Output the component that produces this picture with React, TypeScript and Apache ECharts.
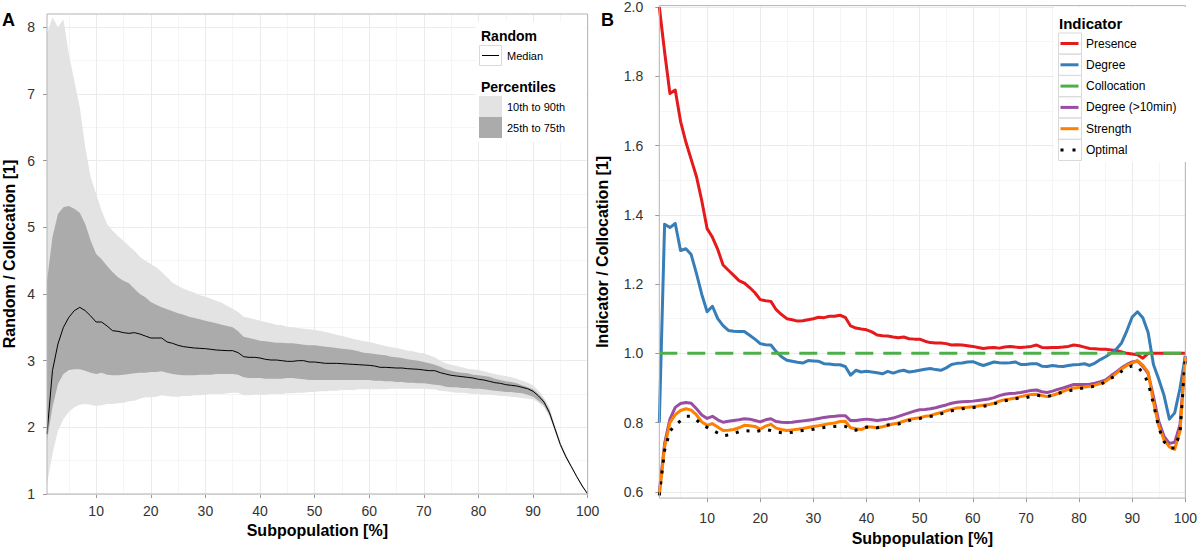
import React, { useEffect, useRef } from 'react';
import * as echarts from 'echarts';

// ---------- data ----------
const subpop = [
  1, 2, 3, 4, 5, 6, 7, 8, 9, 10, 11, 12, 13, 14, 15, 16, 17, 18, 19, 20,
  21, 22, 23, 24, 25, 26, 27, 28, 29, 30, 31, 32, 33, 34, 35, 36, 37, 38, 39, 40,
  41, 42, 43, 44, 45, 46, 47, 48, 49, 50, 51, 52, 53, 54, 55, 56, 57, 58, 59, 60,
  61, 62, 63, 64, 65, 66, 67, 68, 69, 70, 71, 72, 73, 74, 75, 76, 77, 78, 79, 80,
  81, 82, 83, 84, 85, 86, 87, 88, 89, 90, 91, 92, 93, 94, 95, 96, 97, 98, 99, 100,
];

// Panel A: random subpopulation / collocation
const randomMedian = [
  1.9, 2.85, 3.25, 3.5, 3.65, 3.75, 3.8, 3.75, 3.67, 3.58,
  3.58, 3.52, 3.45, 3.44, 3.42, 3.41, 3.42, 3.4, 3.37, 3.34,
  3.34, 3.34, 3.28, 3.26, 3.23, 3.21, 3.2, 3.19, 3.185, 3.18,
  3.17, 3.16, 3.155, 3.15, 3.15, 3.12, 3.06, 3.05, 3.05, 3.04,
  3.02, 3.01, 3.01, 3.0, 2.99, 2.99, 3.0, 3.0, 2.98, 2.98,
  2.97, 2.96, 2.96, 2.96, 2.955, 2.95, 2.945, 2.94, 2.935, 2.93,
  2.92, 2.9, 2.9, 2.895, 2.89, 2.89, 2.88, 2.875, 2.87, 2.86,
  2.85, 2.85, 2.82, 2.8, 2.78, 2.77, 2.76, 2.75, 2.74, 2.72,
  2.71, 2.69, 2.67, 2.66, 2.64, 2.63, 2.62, 2.6, 2.58, 2.54,
  2.47, 2.38, 2.22, 1.98, 1.74, 1.56, 1.41, 1.26, 1.12, 1.0,
];
const randomP25 = [
  1.8, 2.3, 2.65, 2.8, 2.86, 2.87, 2.87, 2.85, 2.82, 2.8,
  2.82, 2.79, 2.78, 2.78, 2.79, 2.8, 2.81, 2.82, 2.82, 2.83,
  2.83, 2.84, 2.82, 2.8, 2.79, 2.78, 2.78, 2.78, 2.79, 2.79,
  2.79, 2.8, 2.8, 2.8, 2.8, 2.79, 2.75, 2.74, 2.74, 2.74,
  2.73, 2.73, 2.73, 2.73, 2.74, 2.74, 2.73, 2.72, 2.71, 2.71,
  2.71, 2.71, 2.71, 2.71, 2.71, 2.71, 2.71, 2.71, 2.71, 2.71,
  2.7, 2.7, 2.69, 2.69, 2.68, 2.68, 2.67, 2.67, 2.66, 2.66,
  2.65, 2.64, 2.63, 2.61, 2.6, 2.6, 2.59, 2.59, 2.58, 2.58,
  2.57, 2.56, 2.55, 2.54, 2.53, 2.53, 2.52, 2.51, 2.49, 2.46,
  2.4, 2.33, 2.18, 1.95, 1.72, 1.54, 1.4, 1.25, 1.11, 1.0,
];
const randomP75 = [
  4.2, 4.85, 5.2, 5.3, 5.32, 5.28, 5.22, 5.05, 4.8, 4.6,
  4.52, 4.42, 4.33, 4.25, 4.2, 4.16, 4.08, 4.0, 3.95, 3.88,
  3.84, 3.8, 3.77, 3.74, 3.71, 3.69, 3.66, 3.64, 3.62, 3.6,
  3.58, 3.56, 3.54, 3.52, 3.5, 3.44, 3.36, 3.34, 3.32, 3.3,
  3.29, 3.28, 3.27, 3.27, 3.26, 3.26, 3.25, 3.24, 3.23, 3.23,
  3.22, 3.21, 3.2, 3.19, 3.18, 3.17, 3.16, 3.14, 3.12, 3.11,
  3.1, 3.09, 3.08, 3.06, 3.05, 3.04, 3.02, 3.01, 3.0, 2.98,
  2.96, 2.94, 2.91, 2.87, 2.85, 2.83, 2.82, 2.81, 2.79, 2.78,
  2.77, 2.76, 2.73, 2.71, 2.69, 2.68, 2.66, 2.63, 2.6, 2.57,
  2.5, 2.41, 2.26, 2.01, 1.76, 1.58, 1.42, 1.27, 1.13, 1.0,
];
const randomP10 = [
  1.15, 1.6, 1.95, 2.12, 2.23, 2.3, 2.34, 2.35, 2.34, 2.32,
  2.33, 2.35, 2.35, 2.36, 2.37, 2.39, 2.4, 2.43, 2.45, 2.45,
  2.46, 2.48, 2.47, 2.46, 2.46, 2.47, 2.47, 2.48, 2.48, 2.49,
  2.5, 2.5, 2.5, 2.51, 2.52, 2.52, 2.48, 2.48, 2.49, 2.49,
  2.49, 2.5, 2.5, 2.5, 2.51, 2.51, 2.52, 2.52, 2.53, 2.53,
  2.54, 2.54, 2.55, 2.55, 2.56, 2.56, 2.56, 2.57, 2.57, 2.57,
  2.57, 2.57, 2.57, 2.58, 2.58, 2.58, 2.58, 2.58, 2.58, 2.58,
  2.57, 2.57, 2.55, 2.54, 2.53, 2.52, 2.52, 2.51, 2.5, 2.5,
  2.49, 2.49, 2.48, 2.47, 2.47, 2.46, 2.45, 2.44, 2.43, 2.42,
  2.37, 2.3, 2.16, 1.93, 1.7, 1.53, 1.39, 1.24, 1.1, 1.0,
];
const randomP90 = [
  7.9, 8.15, 8.0, 8.12, 7.6, 7.2, 6.8, 6.2, 5.75, 5.5,
  5.25, 5.05, 4.95, 4.87, 4.8, 4.72, 4.65, 4.56, 4.5, 4.45,
  4.4, 4.33, 4.25, 4.17, 4.12, 4.08, 4.05, 4.02, 3.98, 3.96,
  3.93, 3.9, 3.87, 3.82, 3.78, 3.73, 3.66, 3.64, 3.62, 3.6,
  3.58, 3.56, 3.54, 3.53, 3.51, 3.5, 3.49, 3.48, 3.47, 3.46,
  3.45, 3.43, 3.41, 3.39, 3.37, 3.35, 3.33, 3.31, 3.29, 3.28,
  3.26, 3.24, 3.22, 3.2, 3.19, 3.17, 3.15, 3.14, 3.12, 3.11,
  3.08, 3.05, 3.0, 2.96, 2.94, 2.92, 2.9, 2.88, 2.87, 2.86,
  2.84, 2.82, 2.8, 2.78, 2.77, 2.75, 2.73, 2.7, 2.67, 2.63,
  2.55, 2.44, 2.3, 2.04, 1.78, 1.6, 1.44, 1.29, 1.14, 1.0,
];

// Panel B: indicator / collocation
const presence = [
  2.0, 1.87, 1.75, 1.76, 1.67, 1.61, 1.56, 1.51, 1.44, 1.36,
  1.335, 1.3, 1.255, 1.24, 1.225, 1.21, 1.203, 1.19, 1.175, 1.155,
  1.152, 1.15, 1.126, 1.112, 1.1, 1.097, 1.093, 1.094, 1.097, 1.1,
  1.104, 1.103, 1.107, 1.107, 1.11, 1.104, 1.079, 1.073, 1.07, 1.068,
  1.062, 1.053, 1.051, 1.05, 1.047, 1.045, 1.047, 1.042, 1.041, 1.041,
  1.035, 1.031, 1.03, 1.03, 1.028, 1.024, 1.025, 1.024, 1.022, 1.02,
  1.017, 1.014, 1.016, 1.017, 1.015, 1.018, 1.02, 1.018, 1.017, 1.018,
  1.02, 1.024, 1.017, 1.016, 1.017, 1.017, 1.018, 1.02, 1.024, 1.022,
  1.018, 1.014, 1.013, 1.012, 1.012, 1.01, 1.008, 1.004, 1.0, 0.998,
  0.996, 0.986, 1.0, 1.0, 1.0, 1.0, 1.0, 1.0, 1.0, 1.0,
];
const degree = [
  0.8, 1.373, 1.363, 1.375, 1.297, 1.302, 1.285, 1.23, 1.17, 1.12,
  1.136, 1.1, 1.08, 1.066, 1.064, 1.063, 1.063, 1.052, 1.041, 1.028,
  1.025, 1.024, 1.005, 0.99, 0.98, 0.977, 0.974, 0.972, 0.979, 0.978,
  0.977, 0.97, 0.969, 0.967, 0.967, 0.962, 0.937, 0.951, 0.946, 0.948,
  0.946, 0.944, 0.941, 0.948, 0.943, 0.948, 0.951, 0.946, 0.948, 0.951,
  0.954, 0.956, 0.953, 0.951, 0.958, 0.968, 0.971, 0.972, 0.975, 0.976,
  0.97, 0.965, 0.97, 0.975, 0.973, 0.972, 0.973, 0.975, 0.968, 0.968,
  0.97, 0.97, 0.963, 0.962, 0.965, 0.963, 0.962, 0.965, 0.967, 0.968,
  0.97, 0.965, 0.972, 0.982, 0.99, 1.0, 1.012, 1.03, 1.065, 1.105,
  1.12, 1.103, 1.06, 0.968, 0.925, 0.878, 0.81, 0.828, 0.899, 0.993,
];
const collocation = [
  1, 1, 1, 1, 1, 1, 1, 1, 1, 1, 1, 1, 1, 1, 1, 1, 1, 1, 1, 1,
  1, 1, 1, 1, 1, 1, 1, 1, 1, 1, 1, 1, 1, 1, 1, 1, 1, 1, 1, 1,
  1, 1, 1, 1, 1, 1, 1, 1, 1, 1, 1, 1, 1, 1, 1, 1, 1, 1, 1, 1,
  1, 1, 1, 1, 1, 1, 1, 1, 1, 1, 1, 1, 1, 1, 1, 1, 1, 1, 1, 1,
  1, 1, 1, 1, 1, 1, 1, 1, 1, 1, 1, 1, 1, 1, 1, 1, 1, 1, 1, 1,
];
const degree10min = [
  0.6, 0.74, 0.81, 0.844, 0.855, 0.858, 0.856, 0.84, 0.822, 0.812,
  0.818, 0.808, 0.801, 0.804, 0.806, 0.808, 0.811, 0.81, 0.806, 0.802,
  0.808, 0.811, 0.803, 0.801, 0.8, 0.801, 0.803, 0.805, 0.807, 0.809,
  0.812, 0.815, 0.817, 0.818, 0.82, 0.82, 0.806, 0.806, 0.808, 0.81,
  0.808, 0.806, 0.808, 0.81, 0.813, 0.818, 0.823, 0.828, 0.833, 0.837,
  0.838, 0.84, 0.843, 0.847, 0.851, 0.856, 0.859, 0.86, 0.861, 0.862,
  0.864, 0.866, 0.868, 0.872, 0.878, 0.882, 0.884, 0.885, 0.887, 0.89,
  0.893, 0.894, 0.889, 0.887, 0.891, 0.896, 0.9, 0.905, 0.91, 0.91,
  0.91, 0.911, 0.914, 0.918, 0.923, 0.935, 0.946, 0.958, 0.968, 0.975,
  0.978, 0.962, 0.942, 0.875, 0.804, 0.76, 0.74, 0.743, 0.794, 0.99,
];
const strength = [
  0.59, 0.73, 0.8, 0.823, 0.835, 0.84, 0.836, 0.822, 0.802, 0.792,
  0.797, 0.787, 0.777, 0.778, 0.78, 0.785, 0.792, 0.791, 0.789, 0.781,
  0.79, 0.795, 0.784, 0.78, 0.777, 0.779, 0.781, 0.783, 0.786, 0.789,
  0.791, 0.794, 0.797, 0.799, 0.803, 0.804, 0.785, 0.782, 0.78, 0.787,
  0.787, 0.785, 0.788, 0.792, 0.796, 0.799, 0.804, 0.809, 0.812, 0.814,
  0.818, 0.82, 0.825, 0.829, 0.834, 0.838, 0.842, 0.843, 0.844, 0.846,
  0.848, 0.85, 0.852, 0.856, 0.862, 0.866, 0.868, 0.871, 0.875, 0.878,
  0.881, 0.882, 0.878, 0.875, 0.879, 0.884, 0.89, 0.896, 0.9, 0.901,
  0.903, 0.905, 0.908, 0.913, 0.919, 0.93, 0.942, 0.955, 0.965, 0.972,
  0.979, 0.966, 0.945, 0.86, 0.79, 0.75, 0.73, 0.723, 0.775, 0.99,
];
const optimal = [
  0.59, 0.72, 0.775, 0.793, 0.805, 0.818, 0.818, 0.808, 0.794, 0.786,
  0.778, 0.77, 0.762, 0.764, 0.768, 0.774, 0.777, 0.776, 0.773, 0.777,
  0.78, 0.777, 0.773, 0.771, 0.77, 0.772, 0.775, 0.777, 0.779, 0.781,
  0.784, 0.786, 0.788, 0.789, 0.79, 0.789, 0.782, 0.778, 0.783, 0.787,
  0.786, 0.785, 0.789, 0.793, 0.795, 0.796, 0.801, 0.806, 0.809, 0.812,
  0.816, 0.818, 0.819, 0.825, 0.83, 0.834, 0.837, 0.84, 0.842, 0.843,
  0.845, 0.847, 0.85, 0.854, 0.859, 0.863, 0.866, 0.869, 0.871, 0.872,
  0.876, 0.879, 0.877, 0.875, 0.879, 0.884, 0.888, 0.891, 0.895, 0.898,
  0.9, 0.903, 0.905, 0.911, 0.917, 0.928, 0.936, 0.948, 0.958, 0.964,
  0.962, 0.944, 0.915, 0.855, 0.785, 0.745, 0.727, 0.727, 0.77, 0.99,
];

// ---------- ticks ----------
const xMajorTicks = [10, 20, 30, 40, 50, 60, 70, 80, 90, 100];
const xMinorTicks = [5, 15, 25, 35, 45, 55, 65, 75, 85, 95];
const yMajorA = [1, 2, 3, 4, 5, 6, 7, 8];
const yMinorA = [1.5, 2.5, 3.5, 4.5, 5.5, 6.5, 7.5];
const yMajorB = [0.6, 0.8, 1.0, 1.2, 1.4, 1.6, 1.8, 2.0];
const yMinorB = [0.7, 0.9, 1.1, 1.3, 1.5, 1.7, 1.9];

const indicatorNames = ['Presence', 'Degree', 'Collocation', 'Degree (>10min)', 'Strength', 'Optimal'];
const indicatorColors = ['#E41A1C', '#377EB8', '#4DAF4A', '#984EA3', '#FF7F00', '#000000'];

// ---------- styles ----------
const FONT = '"Liberation Sans", Arial, Helvetica, sans-serif';
const MAJOR = '#EBEBEB';
const MINOR = '#F5F5F5';
const LIGHT = '#E3E3E3';
const DARK = '#ABABAB';
const BORDER = '#B3B3B3';
const TICKCOL = '#333333';

const pairs = (ys: number[]) => subpop.map((x, i) => [x, ys[i]]);

function gridLines(xMaj: number[], xMin: number[], yMaj: number[], yMin: number[]) {
  const mk = (key: 'xAxis' | 'yAxis', v: number, color: string) => ({
    [key]: v,
    lineStyle: { color, width: 1, type: 'solid' },
  });
  return {
    silent: true,
    symbol: ['none', 'none'],
    z: 1,
    animation: false,
    label: { show: false },
    emphasis: { disabled: true },
    lineStyle: { type: 'solid' },
    data: [
      ...xMin.map((v) => mk('xAxis', v, MINOR)),
      ...yMin.map((v) => mk('yAxis', v, MINOR)),
      ...xMaj.map((v) => mk('xAxis', v, MAJOR)),
      ...yMaj.map((v) => mk('yAxis', v, MAJOR)),
    ],
  };
}

function txt(x: number, y: number, text: string, size: number, bold = false, extra: any = {}) {
  return {
    type: 'text',
    x,
    y,
    z: 30,
    style: {
      text,
      fill: '#000',
      fontFamily: FONT,
      fontSize: size,
      fontWeight: bold ? 'bold' : 'normal',
      align: 'left',
      verticalAlign: 'middle',
      ...extra,
    },
  };
}

// band between two percentile arrays, drawn as one polygon through the axis scales
function bandSeries(lower: number[], upper: number[], color: string) {
  return {
    type: 'custom',
    xAxisIndex: 0,
    yAxisIndex: 0,
    silent: true,
    animation: false,
    encode: { x: 0, y: [1, 2] },
    data: subpop.map((x, i) => [x, lower[i], upper[i]]),
    renderItem: (params: any, api: any) => {
      if (params.dataIndex !== 0) return null;
      const pts: number[][] = [];
      for (let i = 0; i < subpop.length; i++) pts.push(api.coord([subpop[i], upper[i]]));
      for (let i = subpop.length - 1; i >= 0; i--) pts.push(api.coord([subpop[i], lower[i]]));
      return {
        type: 'polygon',
        shape: { points: pts },
        style: { fill: color, stroke: null },
        silent: true,
      };
    },
  };
}

function buildOption(): any {
  const tickLabel = { fontSize: 14, color: TICKCOL, fontFamily: FONT };
  const axisName = { fontSize: 16, fontWeight: 'bold', color: '#000', fontFamily: FONT };

  const legendA: any[] = [
    { type: 'rect', z: 25, shape: { x: 476, y: 22, width: 110, height: 120 }, style: { fill: '#fff' } },
    txt(481, 36, 'Random', 14, true),
    { type: 'rect', z: 26, shape: { x: 479.5, y: 45.5, width: 22, height: 20 }, style: { fill: '#fff', stroke: '#D9D9D9', lineWidth: 1 } },
    { type: 'line', z: 27, shape: { x1: 482, y1: 55.5, x2: 499, y2: 55.5 }, style: { stroke: '#000', lineWidth: 1 } },
    txt(507, 55.5, 'Median', 11),
    txt(481, 87, 'Percentiles', 14, true),
    { type: 'rect', z: 26, shape: { x: 479, y: 96, width: 23, height: 21 }, style: { fill: LIGHT } },
    { type: 'rect', z: 26, shape: { x: 479, y: 117, width: 23, height: 21 }, style: { fill: DARK } },
    txt(507, 107, '10th to 90th', 11),
    txt(507, 127.5, '25th to 75th', 11),
  ];

  const legendB: any[] = [
    { type: 'rect', z: 25, shape: { x: 1054, y: 7, width: 132, height: 155 }, style: { fill: '#fff' } },
    txt(1059, 23, 'Indicator', 15, true),
  ];
  indicatorNames.forEach((name, i) => {
    const cy = 43.5 + i * 21.3;
    legendB.push({
      type: 'rect',
      z: 26,
      shape: { x: 1058.5, y: cy - 10.5, width: 23, height: 21 },
      style: { fill: '#fff', stroke: '#D9D9D9', lineWidth: 1 },
    });
    const isDash = name === 'Collocation';
    const isDot = name === 'Optimal';
    legendB.push({
      type: 'line',
      z: 27,
      shape: { x1: 1060.5, y1: cy, x2: 1078.5, y2: cy },
      style: {
        stroke: indicatorColors[i],
        lineWidth: 3,
        lineCap: 'butt',
        lineDash: isDot ? [3, 9] : isDash ? [18, 10] : null,
      },
    });
    legendB.push(txt(1086, cy, name, 12));
  });

  const panelLabels = [txt(2, 20, 'A', 18, true), txt(601, 20, 'B', 18, true)];

  const baseLine = (data: any[], extra: any = {}) => ({
    type: 'line',
    symbol: 'none',
    data,
    animation: false,
    silent: true,
    ...extra,
  });

  const seriesA = [
    bandSeries(randomP10, randomP90, LIGHT),
    bandSeries(randomP25, randomP75, DARK),
    baseLine(pairs(randomMedian), {
      xAxisIndex: 0,
      yAxisIndex: 0,
      lineStyle: { color: '#000', width: 1 },
      z: 3,
      markLine: gridLines(xMajorTicks, xMinorTicks, yMajorA, yMinorA),
    }),
  ];

  const bData = [presence, degree, collocation, degree10min, strength, optimal];
  const seriesB = bData.map((arr, i) => {
    const name = indicatorNames[i];
    const lineStyle: any = { color: indicatorColors[i], width: 3, cap: 'butt', join: 'round' };
    if (name === 'Collocation') lineStyle.type = [18, 10];
    if (name === 'Optimal') lineStyle.type = [3, 8];
    return baseLine(pairs(arr), {
      name,
      xAxisIndex: 1,
      yAxisIndex: 1,
      lineStyle,
      z: 2 + i * 0.01,
      ...(i === 0 ? { markLine: gridLines(xMajorTicks, xMinorTicks, yMajorB, yMinorB) } : {}),
    });
  });

  return {
    animation: false,
    backgroundColor: '#fff',
    textStyle: { fontFamily: FONT },
    grid: [
      { left: 45.9, top: 14, width: 541.8, height: 480, show: true, borderColor: BORDER, borderWidth: 1, backgroundColor: 'transparent', z: 10 },
      { left: 659.3, top: 5, width: 527.7, height: 500, show: true, borderColor: BORDER, borderWidth: 1, backgroundColor: 'transparent', z: 10 },
    ],
    xAxis: [
      {
        gridIndex: 0, type: 'value', min: 1, max: 100,
        splitLine: { show: false }, axisLine: { show: false },
        axisTick: { show: true, length: 4, lineStyle: { color: '#999' }, customValues: xMajorTicks },
        axisLabel: { ...tickLabel, margin: 10, customValues: xMajorTicks },
        name: 'Subpopulation [%]', nameLocation: 'middle', nameGap: 27, nameTextStyle: axisName,
      },
      {
        gridIndex: 1, type: 'value', min: 1, max: 100,
        splitLine: { show: false }, axisLine: { show: false },
        axisTick: { show: true, length: 4, lineStyle: { color: '#999' }, customValues: xMajorTicks },
        axisLabel: { ...tickLabel, margin: 13, customValues: xMajorTicks },
        name: 'Subpopulation [%]', nameLocation: 'middle', nameGap: 29, nameTextStyle: axisName,
      },
    ],
    yAxis: [
      {
        gridIndex: 0, type: 'value', min: 1, max: 8.2,
        splitLine: { show: false }, axisLine: { show: false },
        axisTick: { show: true, length: 4, lineStyle: { color: '#999' }, customValues: yMajorA },
        axisLabel: { ...tickLabel, margin: 12, customValues: yMajorA },
        name: 'Random / Collocation [1]', nameLocation: 'middle', nameGap: 30, nameTextStyle: axisName,
      },
      {
        gridIndex: 1, type: 'value', min: 0.582, max: 2.004,
        splitLine: { show: false }, axisLine: { show: false },
        axisTick: { show: true, length: 4, lineStyle: { color: '#999' }, customValues: yMajorB },
        axisLabel: { ...tickLabel, margin: 16, customValues: yMajorB, formatter: (v: number) => v.toFixed(1) },
        name: 'Indicator / Collocation [1]', nameLocation: 'middle', nameGap: 49, nameTextStyle: axisName,
      },
    ],
    series: [...seriesA, ...seriesB],
    graphic: { elements: [...legendA, ...legendB, ...panelLabels] },
  };
}

export default function App() {
  const ref = useRef<HTMLDivElement>(null);
  useEffect(() => {
    if (!ref.current) return;
    const chart = echarts.init(ref.current, null, { renderer: 'svg' });
    chart.setOption(buildOption());
    return () => chart.dispose();
  }, []);
  return (
    <div
      ref={ref}
      style={{ position: 'absolute', left: 0, top: 0, width: 1200, height: 551, background: '#fff' }}
    />
  );
}
